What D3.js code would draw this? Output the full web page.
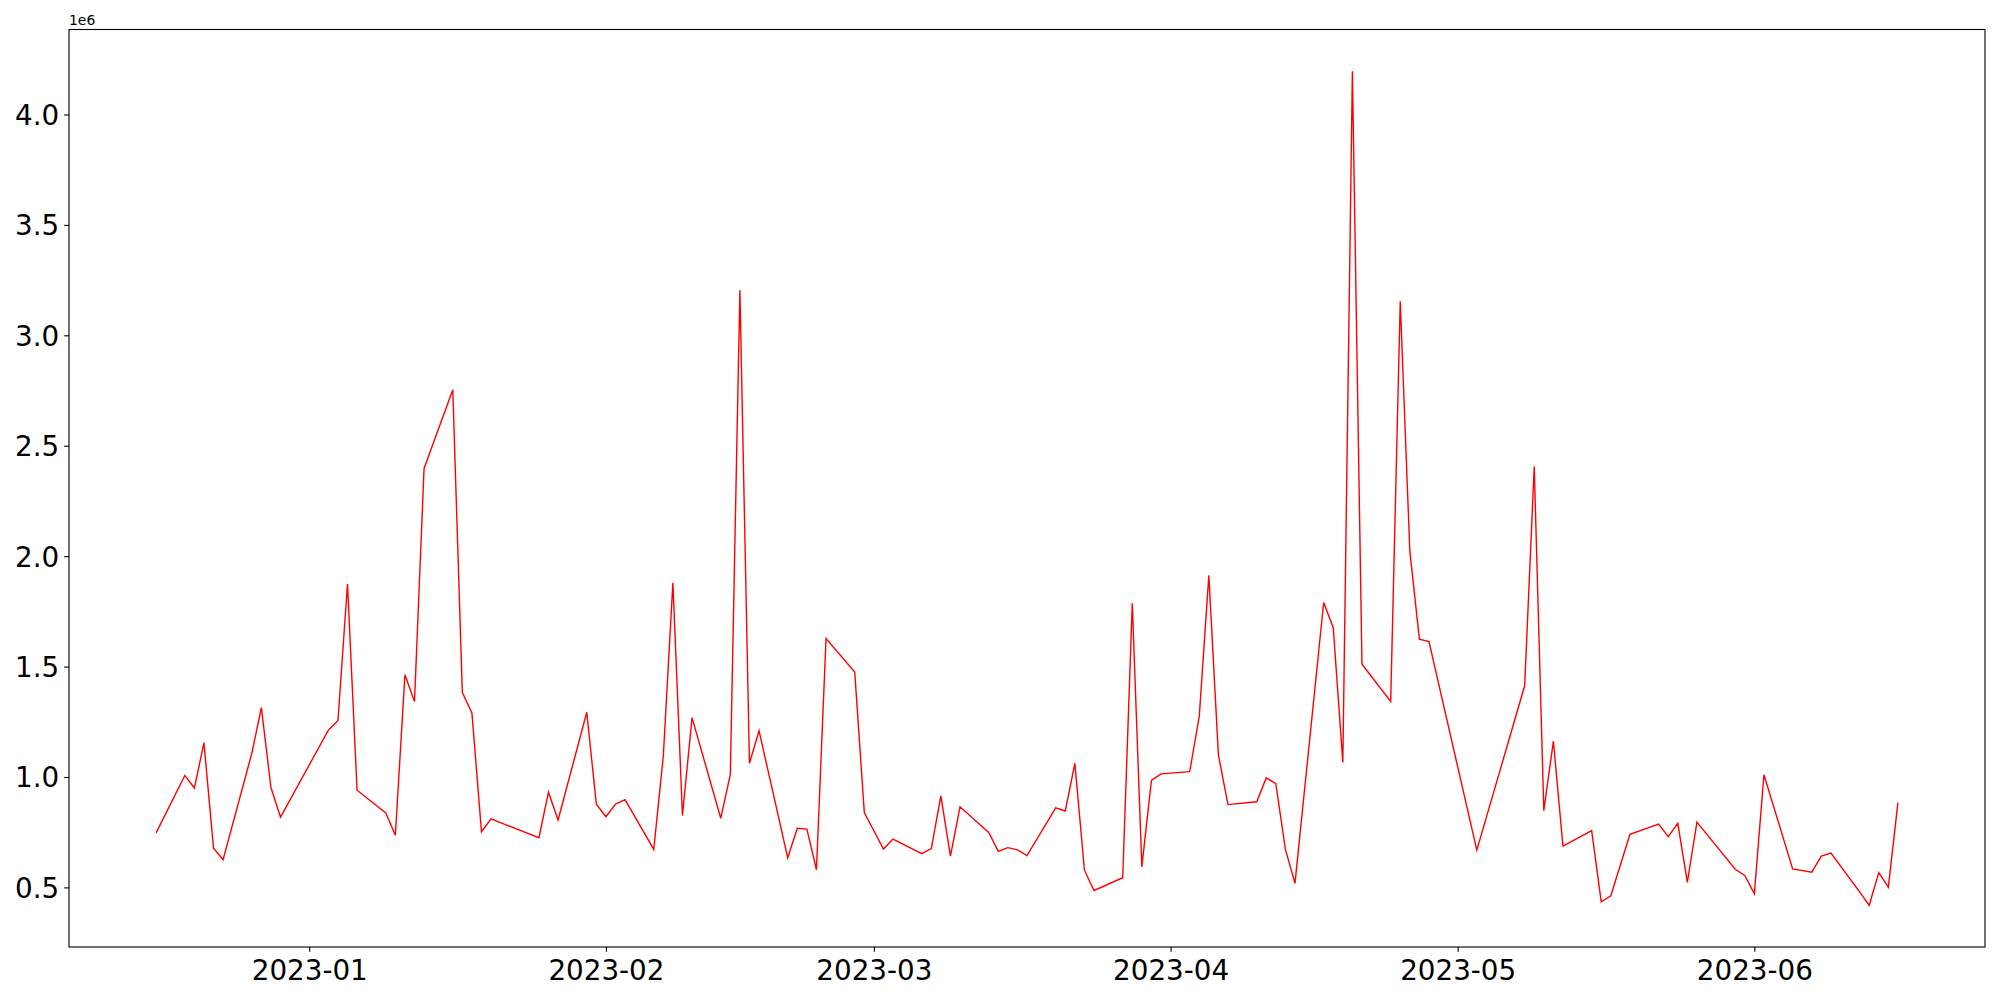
<!DOCTYPE html>
<html>
<head>
<meta charset="utf-8">
<script src="https://cdn.jsdelivr.net/npm/d3@7"></script>
<style>
  html, body { margin: 0; padding: 0; background: #ffffff; }
  svg { display: block; }
  text { font-family: "DejaVu Sans", sans-serif; fill: #000; }
</style>
</head>
<body>
<svg id="chart" width="2000" height="1000"></svg>
<script>
// ---- data ----
const dates = [
  "2022-12-16","2022-12-19","2022-12-20","2022-12-21","2022-12-22","2022-12-23",
  "2022-12-26","2022-12-27","2022-12-28","2022-12-29",
  "2023-01-03","2023-01-04","2023-01-05","2023-01-06",
  "2023-01-09","2023-01-10","2023-01-11","2023-01-12","2023-01-13",
  "2023-01-16","2023-01-17","2023-01-18","2023-01-19","2023-01-20",
  "2023-01-25","2023-01-26","2023-01-27",
  "2023-01-30","2023-01-31","2023-02-01","2023-02-02","2023-02-03",
  "2023-02-06","2023-02-07","2023-02-08","2023-02-09","2023-02-10",
  "2023-02-13","2023-02-14","2023-02-15","2023-02-16","2023-02-17",
  "2023-02-20","2023-02-21","2023-02-22","2023-02-23","2023-02-24",
  "2023-02-27","2023-02-28","2023-03-02","2023-03-03",
  "2023-03-06","2023-03-07","2023-03-08","2023-03-09","2023-03-10",
  "2023-03-13","2023-03-14","2023-03-15","2023-03-16","2023-03-17",
  "2023-03-20","2023-03-21","2023-03-22","2023-03-23","2023-03-24",
  "2023-03-27","2023-03-28","2023-03-29","2023-03-30","2023-03-31",
  "2023-04-03","2023-04-04","2023-04-05","2023-04-06","2023-04-07",
  "2023-04-10","2023-04-11","2023-04-12","2023-04-13","2023-04-14",
  "2023-04-17","2023-04-18","2023-04-19","2023-04-20","2023-04-21",
  "2023-04-24","2023-04-25","2023-04-26","2023-04-27","2023-04-28",
  "2023-05-03",
  "2023-05-08","2023-05-09","2023-05-10","2023-05-11","2023-05-12",
  "2023-05-15","2023-05-16","2023-05-17","2023-05-19",
  "2023-05-22","2023-05-23","2023-05-24","2023-05-25","2023-05-26",
  "2023-05-30","2023-05-31","2023-06-01","2023-06-02",
  "2023-06-05","2023-06-07","2023-06-08","2023-06-09",
  "2023-06-12","2023-06-13","2023-06-14","2023-06-15","2023-06-16"
];
const values = [
  747000,1007000,950000,1155000,678000,625000,
  1107000,1314000,952000,818000,
  1212000,1255000,1874000,940000,
  837000,736000,1463000,1342000,2397000,
  2754000,1382000,1290000,752000,810000,
  725000,931000,805000,
  1293000,877000,820000,877000,897000,
  672000,1096000,1879000,826000,1269000,
  813000,1012000,3204000,1062000,1209000,
  634000,768000,764000,580000,1627000,
  1475000,839000,674000,719000,
  653000,676000,914000,642000,865000,
  749000,663000,680000,670000,644000,
  860000,846000,1062000,578000,486000,
  544000,1787000,593000,985000,1014000,
  1024000,1275000,1913000,1099000,875000,
  888000,996000,970000,672000,518000,
  1790000,1676000,1066000,4196000,1511000,
  1342000,3154000,2023000,1624000,1613000,
  669000,
  1413000,2406000,847000,1162000,687000,
  757000,435000,462000,740000,
  787000,730000,790000,523000,796000,
  582000,554000,471000,1010000,
  584000,569000,642000,655000,
  480000,419000,567000,501000,884000
];
const xTickDates = ["2023-01-01","2023-02-01","2023-03-01","2023-04-01","2023-05-01","2023-06-01"];
const xTickLabels = ["2023-01","2023-02","2023-03","2023-04","2023-05","2023-06"];
const yTickValues = [500000,1000000,1500000,2000000,2500000,3000000,3500000,4000000];
const yTickLabels = ["0.5","1.0","1.5","2.0","2.5","3.0","3.5","4.0"];
const offsetLabel = "1e6";

// ---- layout ----
const W = 2000, H = 1000;
const plot = { left: 69, right: 1985, top: 29.5, bottom: 947 };
const tickLen = 4.86, tickPad = 4.86, fontSize = 27.78;

const parse = d3.utcParse("%Y-%m-%d");
const data = dates.map((d, i) => ({ date: parse(d), value: values[i] }));

// matplotlib-like 5% margins
const tExt = d3.extent(data, d => +d.date);
const tPad = (tExt[1] - tExt[0]) * 0.05;
const vExt = d3.extent(data, d => d.value);
const vPad = (vExt[1] - vExt[0]) * 0.05;

const x = d3.scaleUtc()
  .domain([new Date(tExt[0] - tPad), new Date(tExt[1] + tPad)])
  .range([plot.left, plot.right]);
const y = d3.scaleLinear()
  .domain([vExt[0] - vPad, vExt[1] + vPad])
  .range([plot.bottom, plot.top]);

const svg = d3.select("#chart");
svg.append("rect").attr("width", W).attr("height", H).attr("fill", "#fff");

// line
const line = d3.line().x(d => x(d.date)).y(d => y(d.value));
svg.append("path")
  .datum(data)
  .attr("fill", "none")
  .attr("stroke", "#ff0000")
  .attr("stroke-width", 1.4)
  .attr("stroke-linejoin", "miter")
  .attr("d", line);

// x axis
const xAxis = d3.axisBottom(x)
  .tickValues(xTickDates.map(parse))
  .tickFormat((d, i) => xTickLabels[i])
  .tickSizeInner(tickLen).tickSizeOuter(0).tickPadding(tickPad);
const gx = svg.append("g").attr("transform", `translate(0,${plot.bottom})`).call(xAxis);
gx.select(".domain").remove();
gx.selectAll(".tick line").attr("stroke", "#000").attr("stroke-width", 1.11);
gx.selectAll(".tick text")
  .attr("font-family", "DejaVu Sans")
  .attr("font-size", fontSize)
  .attr("fill", "#000")
  .attr("dy", null)
  .attr("y", 33);

// y axis
const yAxis = d3.axisLeft(y)
  .tickValues(yTickValues)
  .tickFormat((d, i) => yTickLabels[i])
  .tickSizeInner(tickLen).tickSizeOuter(0).tickPadding(tickPad);
const gy = svg.append("g").attr("transform", `translate(${plot.left},0)`).call(yAxis);
gy.select(".domain").remove();
gy.selectAll(".tick line").attr("stroke", "#000").attr("stroke-width", 1.11);
gy.selectAll(".tick text")
  .attr("font-family", "DejaVu Sans")
  .attr("font-size", fontSize)
  .attr("fill", "#000")
  .attr("dy", null)
  .attr("y", 10);

// frame (spines)
svg.append("rect")
  .attr("x", plot.left).attr("y", plot.top)
  .attr("width", plot.right - plot.left).attr("height", plot.bottom - plot.top)
  .attr("fill", "none").attr("stroke", "#000").attr("stroke-width", 1.11);

// offset text
svg.append("text")
  .attr("x", plot.left)
  .attr("y", 25)
  .attr("font-size", 13.9)
  .attr("font-family", "DejaVu Sans")
  .text(offsetLabel);
</script>
</body>
</html>
